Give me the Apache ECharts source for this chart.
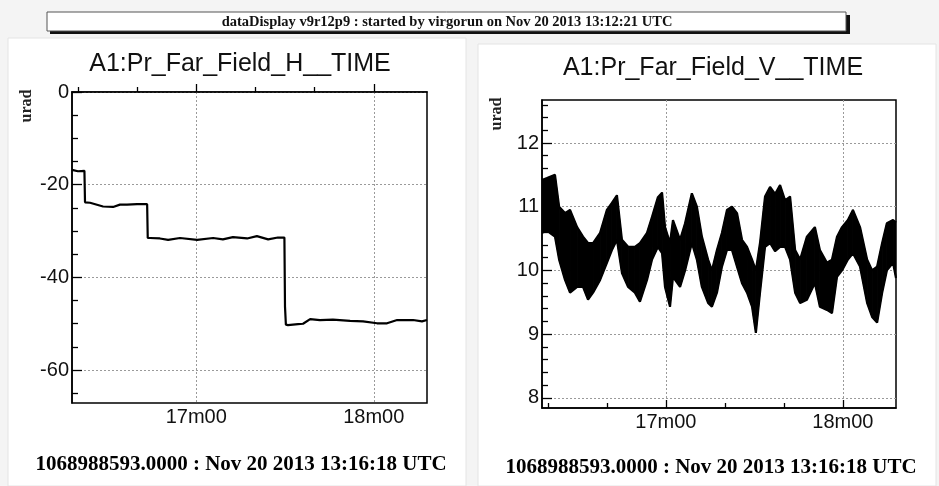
<!DOCTYPE html>
<html>
<head>
<meta charset="utf-8">
<script src="https://cdn.jsdelivr.net/npm/echarts@6/dist/echarts.min.js"></script>
<style>
html,body{margin:0;padding:0;background:#f4f4f4;}
#c{width:939px;height:486px;}
</style>
</head>
<body>
<div id="c"></div>
<script>
// ---- data (time in seconds of the hour: 978 = 16m18s) ----
const hTime = [978.0, 980.0, 982.2, 982.4, 984.1, 988.5, 991.9, 994.2, 996.6, 1000.0, 1003.4, 1003.6, 1004.4, 1007.7, 1010.5, 1014.5, 1020.3, 1025.7, 1029.0, 1032.4, 1037.2, 1040.5, 1044.3, 1047.6, 1049.8, 1050.0, 1050.3, 1051.0, 1054.4, 1056.1, 1058.5, 1061.8, 1066.2, 1072.0, 1076.4, 1081.1, 1084.5, 1087.9, 1093.3, 1096.3, 1098.0];
const hValue = [-16.8, -17.1, -17.0, -23.8, -23.9, -24.7, -24.8, -24.3, -24.3, -24.2, -24.2, -31.5, -31.5, -31.6, -31.9, -31.5, -31.9, -31.5, -31.8, -31.3, -31.6, -31.1, -31.8, -31.4, -31.4, -46.3, -50.2, -50.3, -50.1, -50.0, -49.0, -49.2, -49.1, -49.4, -49.5, -49.9, -49.9, -49.2, -49.2, -49.5, -49.2];

const vTime = [978.0, 979.7, 982.4, 983.8, 985.8, 987.5, 989.9, 991.9, 993.6, 995.3, 997.7, 1000.0, 1001.7, 1003.4, 1005.1, 1007.2, 1009.5, 1011.2, 1013.6, 1015.3, 1017.3, 1018.7, 1019.7, 1021.4, 1022.4, 1024.8, 1026.5, 1028.8, 1030.5, 1032.2, 1034.3, 1035.6, 1037.3, 1039.0, 1040.7, 1042.4, 1044.1, 1045.8, 1047.5, 1049.2, 1050.5, 1051.9, 1053.6, 1055.3, 1057.0, 1058.7, 1060.4, 1062.1, 1063.8, 1065.5, 1067.8, 1070.5, 1072.2, 1074.6, 1076.3, 1078.0, 1079.7, 1081.7, 1083.4, 1085.8, 1088.2, 1089.9, 1091.6, 1093.3, 1094.9, 1097.0, 1098.0];
const vHigh = [11.42, 11.45, 11.5, 11.0, 10.9, 10.95, 10.68, 10.53, 10.43, 10.43, 10.59, 10.95, 11.06, 11.18, 10.48, 10.37, 10.37, 10.43, 10.59, 10.84, 11.15, 11.22, 10.68, 10.43, 10.79, 10.48, 10.74, 11.21, 11.0, 10.53, 10.17, 10.0, 10.32, 10.59, 10.95, 11.0, 10.9, 10.48, 10.37, 10.17, 10.0, 10.43, 11.16, 11.31, 11.2, 11.34, 11.1, 11.16, 10.32, 10.17, 10.53, 10.68, 10.32, 10.12, 10.17, 10.53, 10.68, 10.79, 10.95, 10.68, 10.17, 10.0, 10.06, 10.43, 10.74, 10.79, 10.75];
const vLow = [10.59, 10.62, 10.53, 10.17, 9.85, 9.65, 9.74, 9.74, 9.54, 9.65, 9.85, 10.12, 10.32, 10.48, 9.96, 9.74, 9.65, 9.51, 9.85, 10.17, 10.37, 10.27, 9.74, 9.43, 9.9, 9.74, 10.0, 10.43, 10.17, 9.74, 9.49, 9.43, 9.65, 10.06, 10.32, 10.32, 10.06, 9.8, 9.65, 9.43, 9.02, 9.65, 10.37, 10.43, 10.3, 10.37, 10.37, 10.17, 9.65, 9.49, 9.54, 9.8, 9.43, 9.38, 9.33, 9.9, 10.0, 10.17, 10.27, 10.06, 9.49, 9.27, 9.18, 9.65, 10.0, 10.12, 9.88];

const xMajorTicks = [1020, 1080];
const xMinorTicks = [980, 1000, 1040, 1060];
const hMajorTicks = [-60, -40, -20, 0];
const hMinorTicks = [-65, -55, -50, -45, -35, -30, -25, -15, -10, -5];
const vMajorTicks = [8, 9, 10, 11, 12];
const vMinorTicks = [8.2, 8.4, 8.6, 8.8, 9.2, 9.4, 9.6, 9.8, 10.2, 10.4, 10.6, 10.8, 11.2, 11.4, 11.6, 11.8, 12.2, 12.4, 12.6];

const titleH = 'A1:Pr_Far_Field_H__TIME';
const titleV = 'A1:Pr_Far_Field_V__TIME';
const bannerText = 'dataDisplay v9r12p9 : started by virgorun on Nov 20 2013 13:12:21 UTC';
const footerText = '1068988593.0000 : Nov 20 2013 13:16:18 UTC';
const unitText = 'urad';

// ---- helpers ----
const SANS = 'Liberation Sans, Arial, sans-serif';
const SERIF = 'Liberation Serif, Times New Roman, serif';
function minuteLabel(v) { return Math.round(v / 60) + 'm00'; }
const dotted = { show: true, lineStyle: { color: '#9a9a9a', width: 1, type: [2, 2] } };

function xAxes(grid) {
  return [
    { type: 'value', gridIndex: grid, position: 'bottom', min: 978, max: 1098,
      axisLine: { show: true, lineStyle: { color: '#000', width: 1.5 } },
      axisTick: { show: true, inside: true, length: 8, customValues: xMajorTicks, lineStyle: { color: '#000', width: 1.3 } },
      axisLabel: { show: true, customValues: xMajorTicks, formatter: minuteLabel, color: '#111', fontFamily: SANS, fontSize: 20, margin: 4 },
      splitLine: dotted },
    { type: 'value', gridIndex: grid, position: 'bottom', min: 978, max: 1098,
      axisLine: { show: false },
      axisTick: { show: true, inside: true, length: 5, customValues: xMinorTicks, lineStyle: { color: '#000', width: 1.3 } },
      axisLabel: { show: false }, splitLine: { show: false } }
  ];
}
function yAxes(grid, min, max, major, minor) {
  return [
    { type: 'value', gridIndex: grid, position: 'left', min: min, max: max,
      axisLine: { show: true, lineStyle: { color: '#000', width: 1.5 } },
      axisTick: { show: true, inside: true, length: 10, customValues: major, lineStyle: { color: '#000', width: 1.3 } },
      axisLabel: { show: true, customValues: major, color: '#111', fontFamily: SANS, fontSize: 20, margin: 3 },
      splitLine: dotted },
    { type: 'value', gridIndex: grid, position: 'left', min: min, max: max,
      axisLine: { show: false },
      axisTick: { show: true, inside: true, length: 6, customValues: minor, lineStyle: { color: '#000', width: 1.3 } },
      axisLabel: { show: false }, splitLine: { show: false } }
  ];
}

const hData = hTime.map((t, i) => [t, hValue[i]]);
const vLowData = vTime.map((t, i) => [t, vLow[i]]);
const vHighData = vTime.map((t, i) => [t, vHigh[i]]);
// band segments between consecutive samples: [t0, lo0, hi0, t1, lo1, hi1]
const vBand = vTime.slice(0, -1).map((t, i) => [t, vLow[i], vHigh[i], vTime[i + 1], vLow[i + 1], vHigh[i + 1]]);

function renderBand(params, api) {
  const a = api.coord([api.value(0), api.value(1)]);
  const b = api.coord([api.value(0), api.value(2)]);
  const c = api.coord([api.value(3), api.value(5)]);
  const d = api.coord([api.value(3), api.value(4)]);
  return { type: 'polygon', shape: { points: [a, b, c, d] }, style: { fill: '#000', stroke: '#000', lineWidth: 1 } };
}

const chart = echarts.init(document.getElementById('c'), null, { renderer: 'canvas' });
chart.setOption({
  animation: false,
  backgroundColor: '#f4f4f4',
  grid: [
    { left: 72, top: 92, width: 355, height: 311, show: true, borderColor: '#000', borderWidth: 1.5, backgroundColor: 'transparent' },
    { left: 542, top: 100, width: 354, height: 308, show: true, borderColor: '#000', borderWidth: 1.5, backgroundColor: 'transparent' }
  ],
  xAxis: [...xAxes(0), ...xAxes(1)],
  yAxis: [...yAxes(0, -67.1, 0, hMajorTicks, hMinorTicks), ...yAxes(1, 7.84, 12.675, vMajorTicks, vMinorTicks)],
  series: [
    { type: 'line', xAxisIndex: 0, yAxisIndex: 0, data: hData, showSymbol: false, symbol: 'none',
      lineStyle: { color: '#000', width: 2.2 }, z: 5 },
    { type: 'custom', xAxisIndex: 2, yAxisIndex: 2, data: vBand, renderItem: renderBand, clip: true,
      encode: { x: [0, 3], y: [1, 2, 4, 5] }, z: 4 },
    { type: 'line', xAxisIndex: 2, yAxisIndex: 2, data: vLowData, showSymbol: false, symbol: 'none',
      lineStyle: { color: '#000', width: 2.2 }, z: 5 },
    { type: 'line', xAxisIndex: 2, yAxisIndex: 2, data: vHighData, showSymbol: false, symbol: 'none',
      lineStyle: { color: '#000', width: 2.2 }, z: 5 }
  ],
  graphic: [
    { type: 'rect', z: -10, shape: { x: 8, y: 38, width: 458, height: 448 }, style: { fill: '#ffffff', stroke: '#e4e4e4', lineWidth: 1 } },
    { type: 'rect', z: -10, shape: { x: 478, y: 44, width: 458, height: 442 }, style: { fill: '#ffffff', stroke: '#e4e4e4', lineWidth: 1 } },
    { type: 'rect', z: -5, shape: { x: 50, y: 15, width: 800, height: 19 }, style: { fill: '#111' } },
    { type: 'rect', z: -4, shape: { x: 47, y: 12, width: 799, height: 19 }, style: { fill: '#ffffff', stroke: '#555', lineWidth: 1 } },
    { type: 'text', z: 10, x: 447, y: 22, style: { text: bannerText, fill: '#111', font: 'bold 14.5px ' + SERIF, align: 'center', verticalAlign: 'middle' } },
    { type: 'text', z: 10, x: 240, y: 64, style: { text: titleH, fill: '#111', font: '25px ' + SANS, align: 'center', verticalAlign: 'middle' } },
    { type: 'text', z: 10, x: 713, y: 68, style: { text: titleV, fill: '#111', font: '25px ' + SANS, align: 'center', verticalAlign: 'middle' } },
    { type: 'text', z: 10, x: 27, y: 106, rotation: Math.PI / 2, style: { text: unitText, fill: '#222', font: 'bold 16px ' + SERIF, align: 'center', verticalAlign: 'middle' } },
    { type: 'text', z: 10, x: 497, y: 114, rotation: Math.PI / 2, style: { text: unitText, fill: '#222', font: 'bold 16px ' + SERIF, align: 'center', verticalAlign: 'middle' } },
    { type: 'text', z: 10, x: 241, y: 465, style: { text: footerText, fill: '#000', font: 'bold 21px ' + SERIF, align: 'center', verticalAlign: 'middle' } },
    { type: 'text', z: 10, x: 711, y: 468, style: { text: footerText, fill: '#000', font: 'bold 21px ' + SERIF, align: 'center', verticalAlign: 'middle' } }
  ]
});
</script>
</body>
</html>
